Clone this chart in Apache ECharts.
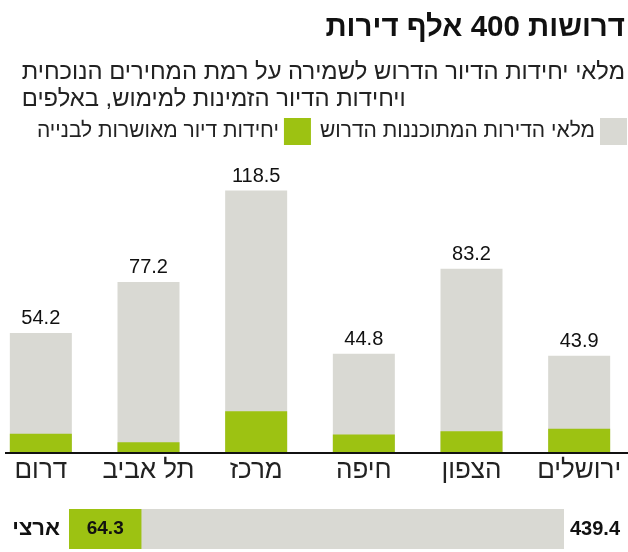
<!DOCTYPE html>
<html dir="rtl">
<head>
<meta charset="utf-8">
<script src="https://cdn.jsdelivr.net/npm/echarts@6/dist/echarts.min.js"></script>
<style>
  html, body { margin: 0; padding: 0; background: #fff; }
  #chart { width: 628px; height: 552px; }
</style>
</head>
<body>
<div id="chart"></div>
<script>
// אזורים
const regions = ['דרום', 'תל אביב', 'מרכז', 'חיפה', 'הצפון', 'ירושלים'];
// מלאי הדירות המתוכננות הדרוש (אלפים)
const requiredStock = [54.2, 77.2, 118.5, 44.8, 83.2, 43.9];
// יחידות דיור מאושרות לבנייה (אלפים) - נקרא מהגרף
const approvedUnits = [8.7, 4.8, 18.9, 8.3, 9.8, 11.0];
// ארצי
const nationalLabel = ['ארצי'];
const nationalRequired = [439.4];
const nationalApproved = [64.3];

const GRAY = '#d9d9d3';
const GREEN = '#9dc212';
const FONT = '"Liberation Sans", Arial, sans-serif';

const nameRequired = 'מלאי הדירות המתוכננות הדרוש';
const nameApproved = 'יחידות דיור מאושרות לבנייה';

const chart = echarts.init(document.getElementById('chart'), null, { renderer: 'canvas' });

const option = {
  animation: false,
  textStyle: { fontFamily: FONT },
  title: [
    {
      text: 'דרושות 400 אלף דירות',
      right: 3,
      top: 13,
      padding: 0,
      textStyle: { fontSize: 29.5, fontWeight: 'bold', color: '#111', fontFamily: FONT }
    },
    {
      text: 'מלאי יחידות הדיור הדרוש לשמירה על רמת המחירים הנוכחית\nויחידות הדיור הזמינות למימוש, באלפים',
      right: 3,
      top: 59,
      padding: 0,
      textStyle: { fontSize: 23.8, fontWeight: 'normal', color: '#222', lineHeight: 27, fontFamily: FONT }
    }
  ],
  legend: {
    right: 1,
    top: 118,
    width: 624,
    align: 'right',
    icon: 'rect',
    itemWidth: 27,
    itemHeight: 27,
    itemGap: 9,
    padding: 0,
    textStyle: { fontSize: 21, color: '#222', fontFamily: FONT },
    data: [nameApproved, nameRequired]
  },
  grid: [
    { left: -13, width: 646, top: 165, height: 288, outerBoundsMode: 'none', containLabel: false },
    { left: 69, width: 495, top: 509, height: 40, outerBoundsMode: 'none', containLabel: false }
  ],
  xAxis: [
    {
      type: 'category',
      gridIndex: 0,
      data: regions,
      axisLine: { show: false },
      axisTick: { show: false },
      axisLabel: { interval: 0, hideOverlap: false, fontSize: 26, color: '#222', margin: 5, fontFamily: FONT }
    },
    {
      type: 'value',
      gridIndex: 1,
      min: 0,
      max: 439.4,
      show: false
    }
  ],
  yAxis: [
    {
      type: 'value',
      gridIndex: 0,
      min: 0,
      max: 130,
      show: false
    },
    {
      type: 'category',
      gridIndex: 1,
      data: nationalLabel,
      axisLine: { show: false },
      axisTick: { show: false },
      axisLabel: { fontSize: 22, fontWeight: 'bold', color: '#111', margin: 9, fontFamily: FONT }
    }
  ],
  series: [
    {
      name: nameRequired,
      type: 'bar',
      xAxisIndex: 0,
      yAxisIndex: 0,
      data: requiredStock,
      barWidth: 62,
      barGap: '-100%',
      itemStyle: { color: GRAY },
      label: {
        show: true,
        position: 'top',
        distance: 4,
        fontSize: 20,
        color: '#111',
        fontFamily: FONT
      }
    },
    {
      name: nameApproved,
      type: 'bar',
      xAxisIndex: 0,
      yAxisIndex: 0,
      data: approvedUnits,
      barWidth: 62,
      barGap: '-100%',
      itemStyle: { color: GREEN }
    },
    {
      name: nameRequired,
      type: 'bar',
      xAxisIndex: 1,
      yAxisIndex: 1,
      data: nationalRequired,
      barWidth: 40,
      barGap: '-100%',
      itemStyle: { color: GRAY },
      label: {
        show: true,
        position: 'right',
        distance: 6,
        fontSize: 20,
        fontWeight: 'bold',
        color: '#111',
        fontFamily: FONT
      }
    },
    {
      name: nameApproved,
      type: 'bar',
      xAxisIndex: 1,
      yAxisIndex: 1,
      data: nationalApproved,
      barWidth: 40,
      barGap: '-100%',
      itemStyle: { color: GREEN },
      label: {
        show: true,
        position: 'inside',
        fontSize: 19,
        fontWeight: 'bold',
        color: '#111',
        fontFamily: FONT
      }
    }
  ],
  graphic: [
    {
      type: 'line',
      shape: { x1: 5, y1: 453, x2: 628, y2: 453 },
      style: { stroke: '#111', lineWidth: 2 },
      z: 10
    }
  ]
};

chart.setOption(option);
</script>
</body>
</html>
